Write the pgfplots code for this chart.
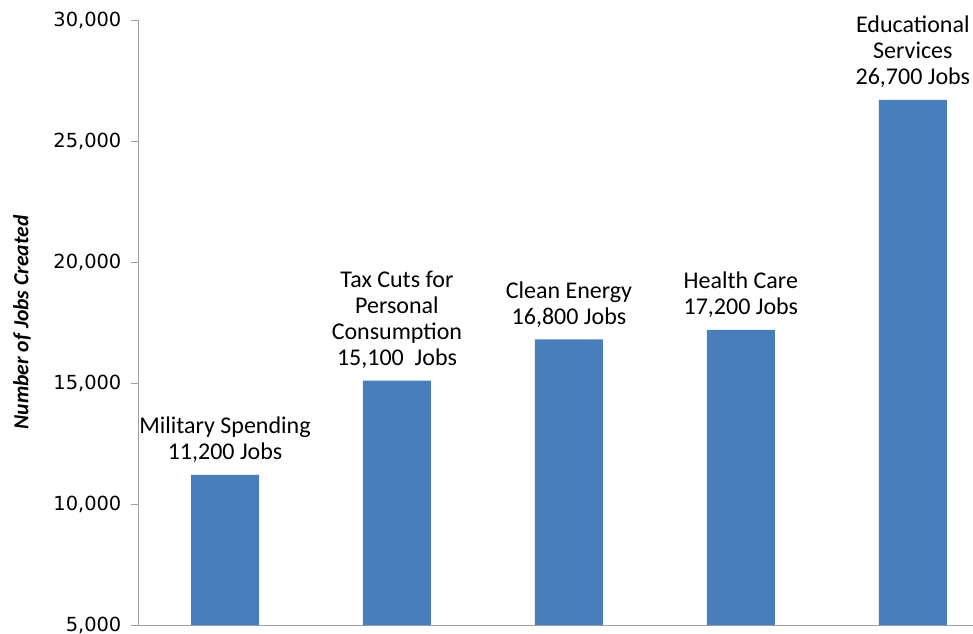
\documentclass[border=0pt]{standalone}
\usepackage{fontspec}
\setmainfont{Carlito}
\newfontfamily\dejavu{DejaVu Sans}
\usepackage{pgfplots}
\pgfplotsset{compat=1.18}
\definecolor{barblue}{HTML}{4A7EBB}
\definecolor{axisgray}{HTML}{A0A0A0}

\begin{document}
\begin{tikzpicture}
\begin{axis}[
    at={(0,0)}, anchor=south west,
    scale only axis,
    width=417.5pt, height=302.5pt,
    xmin=-0.506, xmax=4.35,
    ymin=5000, ymax=30000,
    ytick={5000,10000,...,30000},
    scaled y ticks=false,
    xtick=\empty,
    axis lines=left,
    axis line style={-, axisgray},
    tick style={axisgray},
    tick align=outside,
    major tick length=3.5pt,
    ytick pos=left,
    /pgf/number format/1000 sep={,},
    /pgf/number format/assume math mode=true,
    yticklabel style={font=\dejavu\fontsize{9.7}{11}\selectfont, xshift=-1.3pt},
    clip mode=individual,
]
\addplot[ybar, fill=barblue, draw=none, bar width=34pt]
    coordinates {(0,11200) (1,15100) (2,16800) (3,17200) (4,26700)};

\begin{scope}[every node/.style={anchor=south, align=center, yshift=2.5pt, font=\fontsize{12}{13}\selectfont}]
\node at (axis cs:0,11200) {Military Spending\\11,200 Jobs};
\node at (axis cs:1,15100) {Tax Cuts for\\Personal\\Consumption\\15,100 \ Jobs};
\node at (axis cs:2,16800) {Clean Energy\\16,800 Jobs};
\node at (axis cs:3,17200) {Health Care\\17,200 Jobs};
\node at (axis cs:4,26700) {Educational\\Services\\26,700 Jobs};
\end{scope}

\node[rotate=90, font=\bfseries\itshape\fontsize{10.8}{12}\selectfont]
    at ([xshift=-58pt]rel axis cs:0,0.5) {Number of Jobs Created};
\end{axis}
\pgfresetboundingbox
\path[use as bounding box] (-69pt,-4pt) rectangle (417.5pt,312.5pt);
\end{tikzpicture}
\end{document}
